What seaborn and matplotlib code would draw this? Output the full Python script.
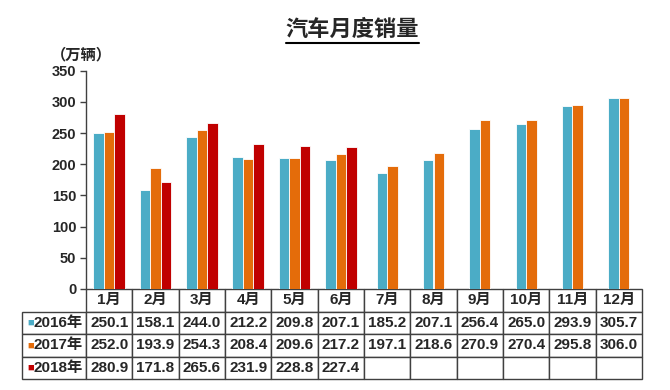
import pandas as pd
import matplotlib
matplotlib.use("Agg")
import matplotlib.pyplot as plt
from matplotlib.lines import Line2D
import seaborn as sns

months = ["1月", "2月", "3月", "4月", "5月", "6月",
          "7月", "8月", "9月", "10月", "11月", "12月"]
years = ["2016年", "2017年", "2018年"]
sales_2016 = [250.1, 158.1, 244.0, 212.2, 209.8, 207.1, 185.2, 207.1, 256.4, 265.0, 293.9, 305.7]
sales_2017 = [252.0, 193.9, 254.3, 208.4, 209.6, 217.2, 197.1, 218.6, 270.9, 270.4, 295.8, 306.0]
sales_2018 = [280.9, 171.8, 265.6, 231.9, 228.8, 227.4]
colors = {"2016年": "#4BACC6", "2017年": "#E46C0A", "2018年": "#C00000"}

sns.set_theme(style="white")
plt.rcParams["font.family"] = ["Liberation Sans", "Noto Sans CJK SC", "DejaVu Sans"]
plt.rcParams["font.weight"] = "bold"

# long format table
rows = []
for year, vals in zip(years, [sales_2016, sales_2017, sales_2018]):
    for m, v in zip(months, vals):
        rows.append({"month": m, "year": year, "sales": v})
df = pd.DataFrame(rows)

# first half of year has 3 bars, second half only 2016/2017
first_half = df[df["month"].isin(months[:6])]
second_half = df[df["month"].isin(months[6:])]

W, H = 670, 390
fig = plt.figure(figsize=(W / 100, H / 100), dpi=100)
ax_left, ax_right, ax_top, ax_bottom = 86, 642, 70.7, 289
ax = fig.add_axes([ax_left / W, 1 - ax_bottom / H,
                   (ax_right - ax_left) / W, (ax_bottom - ax_top) / H])

sns.barplot(data=first_half, x="month", y="sales", hue="year", order=months,
            hue_order=years, palette=colors, saturation=1, width=0.68,
            edgecolor="white", linewidth=0.6, legend=False, ax=ax)
sns.barplot(data=second_half, x="month", y="sales", hue="year", order=months,
            hue_order=years[:2], palette=colors, saturation=1, width=0.453,
            edgecolor="white", linewidth=0.6, legend=False, ax=ax)

ax.set_xlim(-0.5, 11.5)
ax.set_ylim(0, 350)
ax.set_yticks(range(0, 351, 50))
ax.set_xticks([])
ax.set_xlabel("")
ax.set_ylabel("")
for s in ["top", "right", "bottom"]:
    ax.spines[s].set_visible(False)
ax.spines["left"].set_color("#404040")
ax.spines["left"].set_linewidth(1)
ax.tick_params(axis="y", left=True, direction="out", length=4, width=1,
               color="#404040", labelsize=10.5, pad=3)

# data table under the bars (first column holds the year labels)
axw = ax_right - ax_left
axh = ax_bottom - ax_top
tbl_left, tbl_bottom = 22, 379
cell_text = [[""] + [f"{v:.1f}" for v in sales_2016],
             [""] + [f"{v:.1f}" for v in sales_2017],
             [""] + [f"{v:.1f}" for v in sales_2018] + [""] * (len(months) - len(sales_2018))]
bbox = [(tbl_left - ax_left) / axw, (ax_bottom - tbl_bottom) / axh,
        (ax_right - tbl_left) / axw, (tbl_bottom - ax_bottom) / axh]
tbl = ax.table(cellText=cell_text, colLabels=[""] + months, cellLoc="center",
               colWidths=[64] + [46.3] * 12, bbox=bbox)
tbl.auto_set_font_size(False)
tbl.set_fontsize(11)
for (r, c), cell in tbl.get_celld().items():
    cell.set_edgecolor("#404040")
    cell.set_linewidth(1)
    cell.get_text().set_fontweight("bold")
    if r == 0 and c == 0:
        cell.visible_edges = ""

# row labels with coloured squares
for i, year in enumerate(years):
    y = bbox[1] + bbox[3] * (2.5 - i) / 4
    ax.text((83 - ax_left) / axw, y, year, ha="right", va="center",
            fontsize=11, fontweight="bold", transform=ax.transAxes)
    ax.text((34 - ax_left) / axw, y, "■", ha="right", va="center", color=colors[year],
            fontsize=8, transform=ax.transAxes)

# title with underline
title = fig.text(352.5 / W, 1 - 30 / H, "汽车月度销量", ha="center", va="center",
                 fontsize=16, fontweight="bold")
fig.text(81 / W, 1 - 55 / H, "（万辆）", ha="center", va="center",
         fontsize=11, fontweight="bold")

fig.canvas.draw()
bb = title.get_window_extent()
fig.add_artist(Line2D([bb.x0 / W, bb.x1 / W], [1 - 43 / H, 1 - 43 / H],
                      transform=fig.transFigure, color="black", linewidth=1.5))

fig.savefig("out.png", dpi=100)
